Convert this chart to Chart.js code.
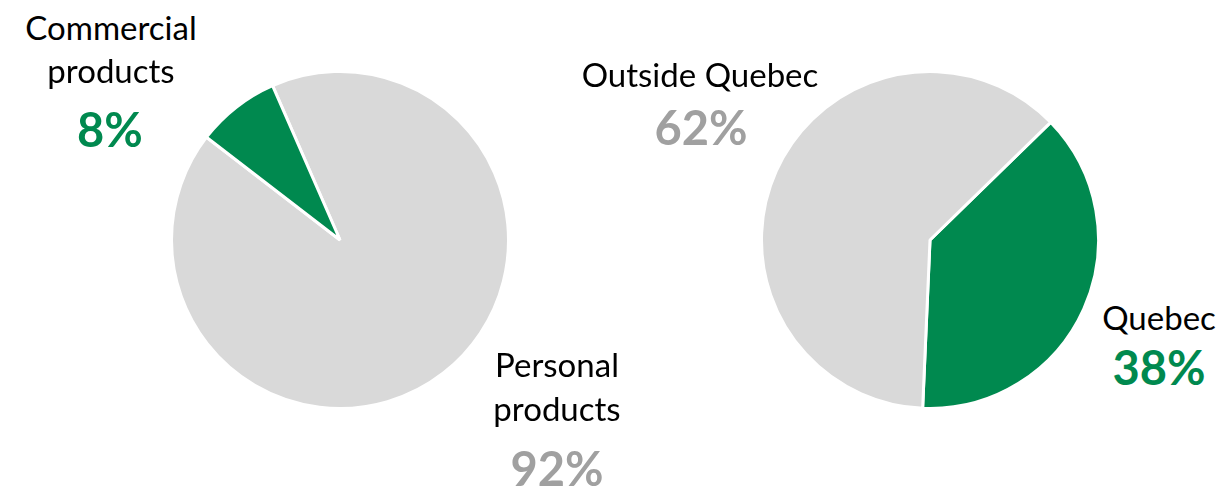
<!DOCTYPE html>
<html>
<head>
<meta charset="utf-8">
<script src="https://cdn.jsdelivr.net/npm/chart.js@4/dist/chart.umd.min.js"></script>
<style>
  html, body { margin: 0; padding: 0; background: #fff; }
  #stage { position: relative; width: 1222px; height: 490px; overflow: hidden; font-family: Lato, "Open Sans", sans-serif; }
  .pie { position: absolute; }
  .lbl { position: absolute; white-space: nowrap; line-height: normal; transform: translateX(-50%); }
  .name { color: #000; font-size: 33px; font-weight: 400; }
  .pct { font-size: 47px; font-weight: 700; }
</style>
</head>
<body>
<div id="stage">
  <div class="pie" style="left:170px; top:70px; width:340px; height:340px;"><canvas id="c1"></canvas></div>
  <div class="pie" style="left:760px; top:70px; width:340px; height:340px;"><canvas id="c2"></canvas></div>
</div>
<script>
// ---- data ----
const productCategories = ["Personal products", "Commercial products"];
const productValues = [92, 8];
const regionCategories = ["Quebec", "Outside Quebec"];
const regionValues = [38, 62];

// ---- styles ----
const GREEN = "#00894F";
const GREY = "#D9D9D9";
const PCT_GREY = "#A0A0A0";

function makePie(id, labels, values, colors, rotation) {
  return new Chart(document.getElementById(id), {
    type: "pie",
    data: { labels: labels, datasets: [{ data: values, backgroundColor: colors, borderColor: "#ffffff", borderWidth: 3, hoverOffset: 0 }] },
    options: {
      responsive: true, maintainAspectRatio: false, animation: false,
      rotation: rotation,
      layout: { padding: 0 },
      plugins: { legend: { display: false }, tooltip: { enabled: false } },
      events: []
    }
  });
}
makePie("c1", productCategories, productValues, [GREY, GREEN], -23.6);
makePie("c2", regionCategories, regionValues, [GREEN, GREY], 45.7);

// ---- labels (real text), placed by baseline ----
const stage = document.getElementById("stage");
function place(text, cls, color, cx, baseline) {
  const d = document.createElement("div");
  d.className = "lbl " + cls;
  d.style.color = color;
  d.style.left = cx + "px";
  d.style.top = "0px";
  d.textContent = text;
  const probe = document.createElement("span");
  probe.style.display = "inline-block"; probe.style.width = "0"; probe.style.height = "0"; probe.style.verticalAlign = "baseline";
  d.appendChild(probe);
  stage.appendChild(d);
  const off = probe.offsetTop;
  d.style.top = (baseline - off) + "px";
}
function twoLines(s) { return s.split(" "); }

// Left pie labels
const com = twoLines(productCategories[1]);
place(com[0], "name", "#000", 111, 40);
place(com[1], "name", "#000", 111, 83);
place(productValues[1] + "%", "pct", GREEN, 110, 147);
const per = twoLines(productCategories[0]);
place(per[0], "name", "#000", 557, 377);
place(per[1], "name", "#000", 557, 421);
place(productValues[0] + "%", "pct", PCT_GREY, 557, 486);
// Right pie labels
place(regionCategories[1], "name", "#000", 700, 87);
place(regionValues[1] + "%", "pct", PCT_GREY, 701, 145);
place(regionCategories[0], "name", "#000", 1159, 330);
place(regionValues[0] + "%", "pct", GREEN, 1159, 385);
</script>
</body>
</html>
